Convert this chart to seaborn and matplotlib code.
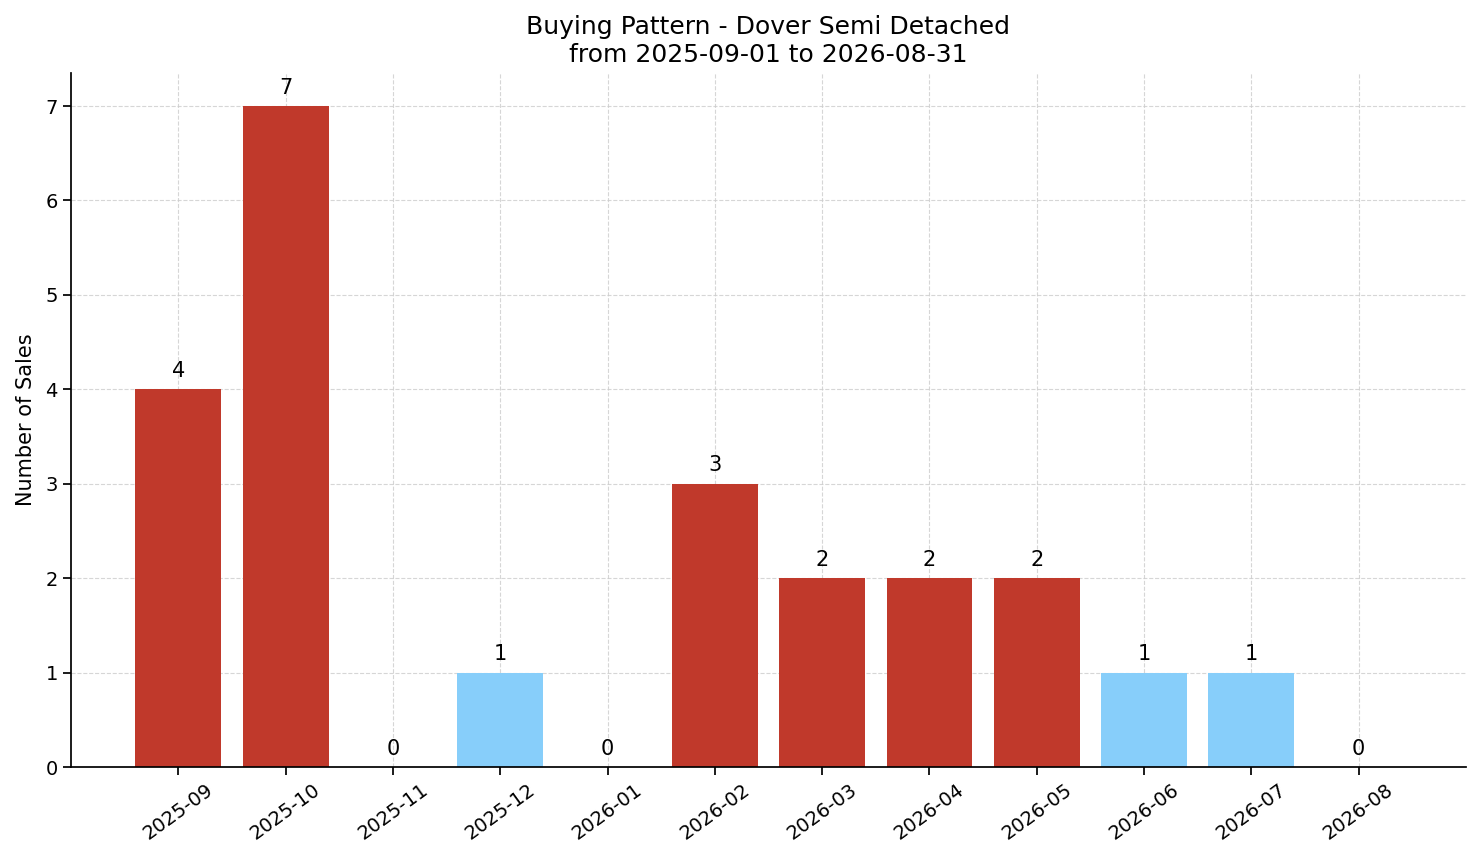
import matplotlib
matplotlib.use("Agg")
import matplotlib.pyplot as plt
import seaborn as sns
import pandas as pd

months = ["2025-09", "2025-10", "2025-11", "2025-12", "2026-01", "2026-02",
          "2026-03", "2026-04", "2026-05", "2026-06", "2026-07", "2026-08"]
sales = [4, 7, 0, 1, 0, 3, 2, 2, 2, 1, 1, 0]
RED = "#c0392b"
BLUE = "#87cefa"
colors = [RED if v >= 2 else BLUE for v in sales]

sns.set_theme(style="ticks")
plt.rcParams['font.family'] = ['DejaVu Sans']
for k in ["text.color", "axes.labelcolor", "xtick.color", "ytick.color", "axes.edgecolor"]:
    plt.rcParams[k] = "black"

df = pd.DataFrame({"month": months, "sales": sales})

fig = plt.figure(figsize=(14.81, 8.63), dpi=100)
ax = fig.add_axes([71/1481, 1-767/863, (1466-71)/1481, (767-73)/863])
sns.barplot(data=df, x="month", y="sales", hue="month", palette=colors,
            width=0.8, saturation=1, legend=False, ax=ax, linewidth=0, zorder=2)
for c in ax.containers:
    ax.bar_label(c, fmt="%d", padding=6, fontsize=15)
ax.set_xlim(-1, 12)
ax.set_ylim(0, 7.35)
ax.grid(True, linestyle="--", color="#cccccc", linewidth=0.8, alpha=0.8, zorder=0)
ax.set_axisbelow(True)
sns.despine(ax=ax)
ax.set_xlabel("")
ax.set_ylabel("Number of Sales", fontsize=15, labelpad=7)
ax.tick_params(axis="both", labelsize=14)
plt.setp(ax.get_xticklabels(), rotation=36, ha="center")
ax.set_title("Buying Pattern - Dover Semi Detached\nfrom 2025-09-01 to 2026-08-31", fontsize=18, pad=8)
fig.savefig("out.png", dpi=100)
